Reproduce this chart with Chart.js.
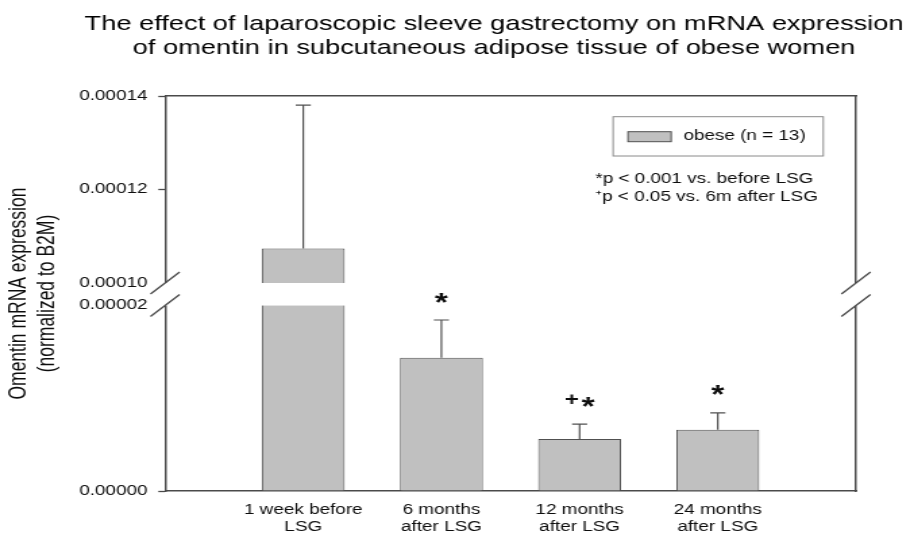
<!DOCTYPE html>
<html>
<head>
<meta charset="utf-8">
<script src="https://cdn.jsdelivr.net/npm/chart.js@4/dist/chart.umd.min.js"></script>
<style>
  html, body { margin: 0; padding: 0; background: #fff; overflow: hidden; width: 910px; height: 535px; }
  #wrap { width: 674px; height: 535px; transform: scaleX(1.3501); transform-origin: 0 0; }
</style>
</head>
<body>
<div id="wrap"><canvas id="c" width="674" height="535"></canvas></div>
<script>
// ---------- data ----------
const titleLines = [
  'The effect of laparoscopic sleeve gastrectomy on mRNA expression',
  'of omentin in subcutaneous adipose tissue of obese women'
];
const yTitleLines = ['Omentin mRNA expression', '(normalized to B2M)'];
const categories = ['1 week before\nLSG', '6 months\nafter LSG', '12 months\nafter LSG', '24 months\nafter LSG'];
const seriesLabel = 'obese (n = 13)';
const meanValues  = [1.074e-4, 1.437e-5, 5.61e-6, 6.61e-6];
const errorValues = [3.065e-5, 4.07e-6, 1.61e-6, 1.83e-6];
const markers = ['', '*', '+*', '*'];
const notes = ['*p < 0.001 vs. before LSG', '\u207Ap < 0.05 vs. 6m after LSG'];
const yTickValues = [0, 2e-5, 1e-4, 1.2e-4, 1.4e-4];
const yBreak = [2e-5, 1e-4];

// ---------- style ----------
const FONT = "'Liberation Sans', Arial, Helvetica, sans-serif";
const axisColor = '#4a4a4a';
const textColor = '#0d0d0d';
const barFill = '#c0c0c0';
const barEdge = '#505050';
Chart.defaults.font.family = FONT;

// ---------- broken (two-segment) linear scale ----------
const BREAK_GAP = 2.43e-6;   // visual gap between segments (in lower-segment units)
const UPPER_RATIO = 0.504;   // upper segment compression
function compress(v) {
  const lo = yBreak[0], hi = yBreak[1];
  if (v <= lo) return v;
  if (v < hi) return lo + (v - lo) / (hi - lo) * BREAK_GAP;
  return lo + BREAK_GAP + (v - hi) * UPPER_RATIO;
}
function expand(c) {
  const lo = yBreak[0], hi = yBreak[1];
  if (c <= lo) return c;
  if (c < lo + BREAK_GAP) return lo + (c - lo) / BREAK_GAP * (hi - lo);
  return hi + (c - lo - BREAK_GAP) / UPPER_RATIO;
}
class BrokenLinearScale extends Chart.LinearScale {
  getPixelForValue(value) {
    if (value === null || value === undefined || isNaN(value)) return NaN;
    const a = compress(this.min), b = compress(this.max);
    return this.getPixelForDecimal((compress(value) - a) / (b - a));
  }
  getValueForPixel(pixel) {
    const a = compress(this.min), b = compress(this.max);
    return expand(a + this.getDecimalForPixel(pixel) * (b - a));
  }
}
BrokenLinearScale.id = 'brokenLinear';
BrokenLinearScale.defaults = {};
Chart.register(BrokenLinearScale);

// ---------- decorations plugin ----------
const decor = {
  id: 'decor',
  afterDatasetsDraw(chart) {
    const ctx = chart.ctx, ys = chart.scales.y;
    const meta = chart.getDatasetMeta(0);
    ctx.save();
    ctx.strokeStyle = barEdge;
    ctx.lineWidth = 1.2;
    meta.data.forEach((bar, i) => {
      const top = ys.getPixelForValue(meanValues[i] + errorValues[i]);
      ctx.beginPath();
      ctx.moveTo(bar.x, bar.y);
      ctx.lineTo(bar.x, top);
      ctx.moveTo(bar.x - 5.6, top);
      ctx.lineTo(bar.x + 5.6, top);
      ctx.stroke();
    });
    ctx.restore();
  },
  afterDraw(chart) {
    const ctx = chart.ctx, ca = chart.chartArea, ys = chart.scales.y;
    const yHi = ys.getPixelForValue(yBreak[1]);
    const yLo = ys.getPixelForValue(yBreak[0]);
    ctx.save();
    // axis break band
    ctx.fillStyle = '#ffffff';
    ctx.fillRect(ca.left - 4, yHi, ca.right - ca.left + 8, yLo - yHi);
    // break slashes
    ctx.strokeStyle = axisColor;
    ctx.lineWidth = 1.3;
    [ca.left, ca.right].forEach(x => {
      [yHi, yLo].forEach(y => {
        ctx.beginPath();
        ctx.moveTo(x - 10.8, y + 11);
        ctx.lineTo(x + 10.8, y - 11);
        ctx.stroke();
      });
    });

    // significance markers
    const meta = chart.getDatasetMeta(0);
    ctx.fillStyle = textColor;
    ctx.textAlign = 'left';
    ctx.textBaseline = 'alphabetic';
    const starFont = 'bold 25px ' + FONT;
    const plusFont = 'bold 18px ' + FONT;
    meta.data.forEach((bar, i) => {
      const s = markers[i];
      if (!s) return;
      const top = ys.getPixelForValue(meanValues[i] + errorValues[i]);
      const chars = Array.from(s);
      const parts = chars.map(ch => {
        ctx.font = ch === '+' ? plusFont : starFont;
        const m = ctx.measureText(ch);
        return { ch, font: ctx.font, w: m.width, mid: (m.actualBoundingBoxAscent - m.actualBoundingBoxDescent) / 2 };
      });
      const gap = 2;
      const total = parts.reduce((t, p) => t + p.w, 0) + gap * (parts.length - 1);
      let x = bar.x - total / 2;
      parts.forEach(p => {
        ctx.font = p.font;
        const center = top - (p.ch === '+' ? 25 : 22.3);
        ctx.fillText(p.ch, x, center + p.mid);
        x += p.w + gap;
      });
    });

    // legend
    const ds = chart.data.datasets[0];
    ctx.font = '14px ' + FONT;
    const tw = ctx.measureText(ds.label).width;
    const boxW = 11 + 32 + 9 + tw + 13;
    const boxH = 39.3;
    const boxR = ca.right - 24.2;
    const boxL = boxR - boxW;
    const boxT = ca.top + 20.7;
    ctx.strokeStyle = '#8a8a8a';
    ctx.lineWidth = 1;
    ctx.strokeRect(boxL, boxT, boxW, boxH);
    ctx.fillStyle = ds.backgroundColor;
    ctx.fillRect(boxL + 11, boxT + 15, 32, 10);
    ctx.strokeStyle = ds.borderColor;
    ctx.strokeRect(boxL + 11, boxT + 15, 32, 10);
    ctx.fillStyle = textColor;
    ctx.textBaseline = 'middle';
    ctx.fillText(ds.label, boxL + 52, boxT + 19.5);

    // notes
    notes.forEach((t, k) => {
      ctx.fillText(t, boxL - 13.2, boxT + boxH + 23 + k * 18);
    });

    // title
    ctx.fillStyle = '#000';
    ctx.textAlign = 'center';
    ctx.textBaseline = 'alphabetic';
    ctx.font = '20.2px ' + FONT;
    const cx = (ca.left + ca.right) / 2 - 12.2;
    titleLines.forEach((t, k) => ctx.fillText(t, cx, 29.5 + k * 24));
    ctx.restore();
  }
};

const borderOpts = { display: true, color: axisColor, width: 1.5 };

new Chart(document.getElementById('c'), {
  type: 'bar',
  data: {
    datasets: [{
      label: seriesLabel,
      data: meanValues.map((v, i) => ({ x: i + 1, y: v })),
      backgroundColor: barFill,
      borderColor: barEdge,
      borderWidth: 1,
      categoryPercentage: 1,
      barPercentage: 0.6
    }]
  },
  options: {
    responsive: false,
    animation: false,
    devicePixelRatio: 1,
    layout: { padding: { top: 96, right: 40, bottom: 0, left: 0 } },
    plugins: {
      legend: { display: false },
      title: { display: false },
      tooltip: { enabled: false }
    },
    scales: {
      x: {
        type: 'linear', position: 'bottom', min: 0, max: 5, offset: false,
        afterBuildTicks: s => { s.ticks = categories.map((c, i) => ({ value: i + 1 })); },
        afterFit: s => { s.height -= s.options.ticks.padding; },
        ticks: {
          callback: v => (categories[Math.round(v) - 1] || '').split('\n'),
          autoSkip: false, maxRotation: 0, minRotation: 0, padding: 10.6,
          color: textColor, font: { size: 14, lineHeight: 1.19 }
        },
        grid: { display: false, drawTicks: false },
        border: borderOpts
      },
      xTop: {
        type: 'linear', position: 'top', display: true,
        ticks: { display: false }, grid: { display: false, drawTicks: false }, border: borderOpts
      },
      y: {
        type: 'brokenLinear', position: 'left', min: 0, max: 1.4e-4,
        afterBuildTicks: s => { s.ticks = yTickValues.map(v => ({ value: v })); },
        ticks: {
          callback: v => Number(v).toFixed(5),
          autoSkip: false, padding: 8, color: textColor, font: { size: 14 }
        },
        grid: {
          display: true, drawOnChartArea: false, drawTicks: true, tickLength: 5, tickWidth: 1.3,
          tickColor: c => (c.tick && yBreak.includes(c.tick.value)) ? 'rgba(0,0,0,0)' : axisColor
        },
        border: borderOpts,
        title: {
          display: true, text: yTitleLines, color: textColor,
          font: { size: 17.5, lineHeight: 1.19 }, padding: { top: 4, bottom: 5 }
        }
      },
      yRight: {
        type: 'linear', position: 'right', display: true,
        ticks: { display: false }, grid: { display: false, drawTicks: false }, border: borderOpts
      }
    }
  },
  plugins: [decor]
});
</script>
</body>
</html>
